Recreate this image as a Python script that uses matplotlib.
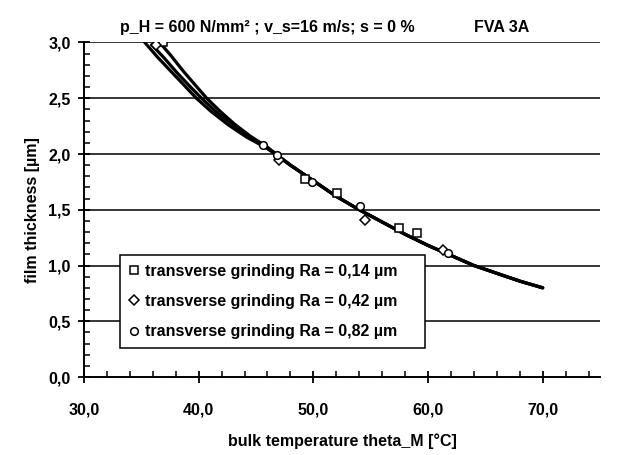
import matplotlib
matplotlib.use("Agg")
import matplotlib.pyplot as plt
from matplotlib.ticker import MultipleLocator, FixedLocator

plt.rcParams['font.family'] = ['Liberation Sans', 'DejaVu Sans']

# curves; the three fits split above ~46 °C
tail_x = [48.0, 50.0, 52.0, 54.0, 56.0, 58.0, 60.0, 62.0, 64.0, 66.0, 68.0, 70.0]
tail_y = [1.90, 1.76, 1.62, 1.50, 1.39, 1.28, 1.18, 1.09, 1.00, 0.93, 0.86, 0.80]

c1_x = [35.3, 36.4, 37.5, 38.7, 39.8, 41.1, 42.6, 44.2, 46.0] + tail_x
c1_y = [3.00, 2.87, 2.75, 2.62, 2.50, 2.38, 2.26, 2.15, 2.05] + tail_y
c2_x = [35.9, 37.0, 38.1, 39.2, 40.25, 41.5, 42.9, 44.4, 46.0] + tail_x
c2_y = [2.98, 2.86, 2.73, 2.61, 2.50, 2.38, 2.27, 2.15, 2.05] + tail_y
c3_x = [36.6, 37.6, 38.6, 39.6, 40.7, 41.9, 43.1, 44.5, 46.0] + tail_x
c3_y = [3.00, 2.88, 2.75, 2.63, 2.50, 2.38, 2.27, 2.16, 2.06] + tail_y

# measured points
sq_x = [36.9, 49.3, 52.1, 57.5, 59.0]
sq_y = [3.00, 1.78, 1.65, 1.34, 1.29]
di_x = [36.3, 47.0, 54.5, 61.3]
di_y = [2.98, 1.95, 1.41, 1.14]
ci_x = [45.6, 46.8, 49.9, 54.1, 61.7]
ci_y = [2.08, 1.99, 1.75, 1.53, 1.11]

labels = ['transverse grinding Ra = 0,14 µm',
          'transverse grinding Ra = 0,42 µm',
          'transverse grinding Ra = 0,82 µm']

xticks = [30, 40, 50, 60, 70]
xticklabels = ['30,0', '40,0', '50,0', '60,0', '70,0']
yticks = [0.0, 0.5, 1.0, 1.5, 2.0, 2.5, 3.0]
yticklabels = ['0,0', '0,5', '1,0', '1,5', '2,0', '2,5', '3,0']

fs = 11.5
fig = plt.figure(figsize=(6.39, 4.55), dpi=100)
ax = fig.add_axes([0.1315, 0.1714, 0.8075, 0.7352])

for y in yticks[1:]:
    ax.axhline(y, color='black', lw=1.1, zorder=1)

for cx, cy in [(c1_x, c1_y), (c2_x, c2_y), (c3_x, c3_y)]:
    ax.plot(cx, cy, color='black', lw=2.3, zorder=2, solid_capstyle='round')

mk = dict(ls='none', mfc='white', mec='black', mew=1.1, zorder=3)
ax.plot(sq_x, sq_y, marker='s', ms=5.5, label=labels[0], **mk)
ax.plot(di_x, di_y, marker='D', ms=5, label=labels[1], **mk)
ax.plot(ci_x, ci_y, marker='o', ms=5.5, label=labels[2], **mk)

ax.set_xlim(30, 75)
ax.set_ylim(0, 3.0)
ax.xaxis.set_major_locator(FixedLocator(xticks))
ax.set_xticklabels(xticklabels, fontweight='bold')
ax.yaxis.set_major_locator(FixedLocator(yticks))
ax.set_yticklabels(yticklabels, fontweight='bold')
ax.xaxis.set_minor_locator(MultipleLocator(2))
ax.yaxis.set_minor_locator(MultipleLocator(0.1))

for s in ['top', 'right']:
    ax.spines[s].set_visible(False)
for s in ['left', 'bottom']:
    ax.spines[s].set_linewidth(1.4)

ax.tick_params(which='major', direction='inout', length=9, width=1.3,
               labelsize=fs)
ax.tick_params(axis='x', which='major', pad=14)
ax.tick_params(axis='y', which='major', pad=5)
ax.tick_params(which='minor', direction='in', length=4, width=1.1)

ax.set_xlabel('bulk temperature theta_M [°C]', fontsize=fs, fontweight='bold')
ax.set_ylabel('film thickness [µm]', fontsize=fs, fontweight='bold')
ax.xaxis.set_label_coords(0.5, -0.17)
ax.yaxis.set_label_coords(-0.085, 0.5)

fig.text(0.188, 0.94, 'p_H = 600 N/mm² ; v_s=16 m/s; s = 0 %', fontsize=fs,
         fontweight='bold', va='center', ha='left')
fig.text(0.785, 0.94, 'FVA 3A', fontsize=fs, fontweight='bold',
         va='center', ha='center')

leg = ax.legend(loc='lower left', bbox_to_anchor=(0.07, 0.087, 0.591, 0.293),
                mode='expand', frameon=True, fancybox=False,
                prop={'size': fs, 'weight': 'bold'},
                handlelength=0.6, handletextpad=0.4, borderpad=0.55,
                labelspacing=0.95, borderaxespad=0)
leg.get_frame().set_edgecolor('black')
leg.get_frame().set_linewidth(1.1)
leg.get_frame().set_alpha(1)

fig.savefig('out.png', dpi=100, facecolor='white')
